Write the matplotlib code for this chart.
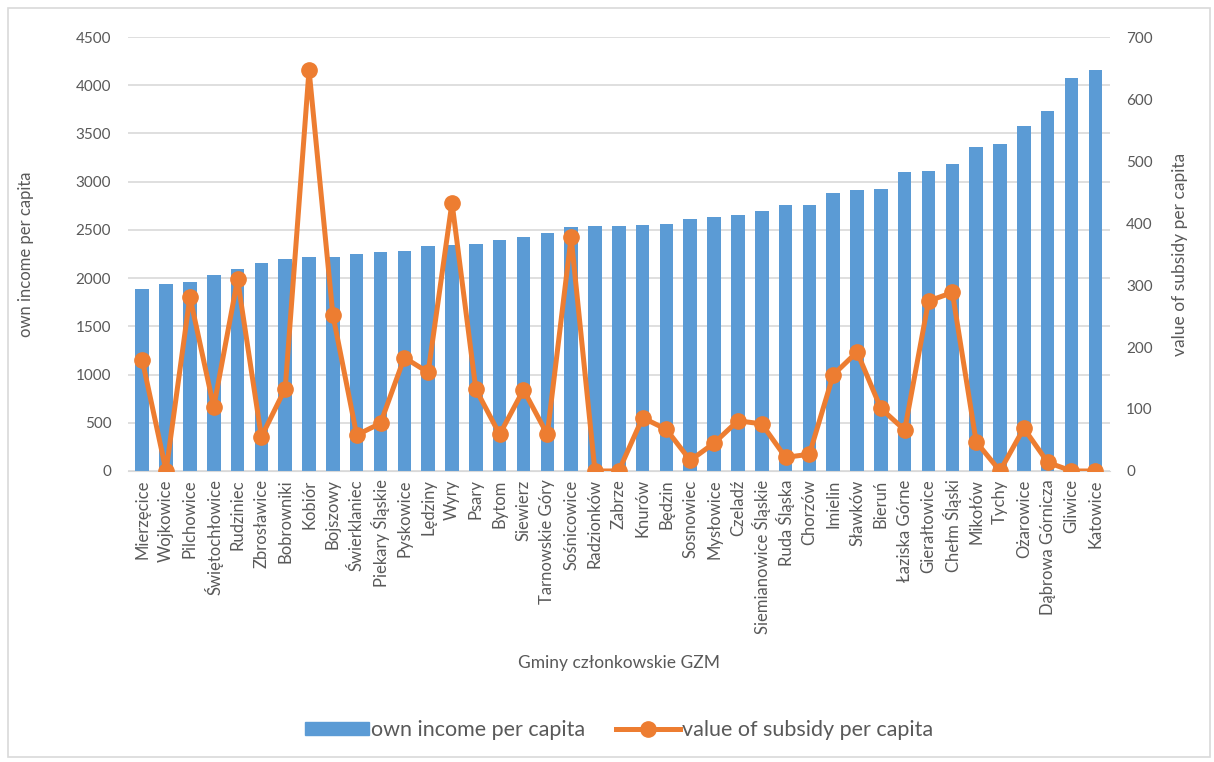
import matplotlib.pyplot as plt
import matplotlib.patches as mpatches
import numpy as np

# gminy GZM, sorted by own income
gminy = ['Mierzęcice', 'Wojkowice', 'Pilchowice', 'Świętochłowice', 'Rudziniec',
         'Zbrosławice', 'Bobrowniki', 'Kobiór', 'Bojszowy', 'Świerklaniec',
         'Piekary Śląskie', 'Pyskowice', 'Lędziny', 'Wyry', 'Psary', 'Bytom',
         'Siewierz', 'Tarnowskie Góry', 'Sośnicowice', 'Radzionków', 'Zabrze',
         'Knurów', 'Będzin', 'Sosnowiec', 'Mysłowice', 'Czeladź',
         'Siemianowice Śląskie', 'Ruda Śląska', 'Chorzów', 'Imielin', 'Sławków',
         'Bieruń', 'Łaziska Górne', 'Gierałtowice', 'Chełm Śląski', 'Mikołów',
         'Tychy', 'Ożarowice', 'Dąbrowa Górnicza', 'Gliwice', 'Katowice']

own_income = [1890, 1940, 1960, 2030, 2095, 2160, 2200, 2215, 2220, 2255,
              2275, 2285, 2330, 2345, 2350, 2395, 2425, 2465, 2530, 2540,
              2545, 2550, 2560, 2610, 2630, 2655, 2692, 2758, 2762, 2883,
              2914, 2927, 3097, 3108, 3183, 3360, 3388, 3581, 3733, 4078, 4158]

subsidy = [179, 0, 281, 103, 309, 55, 133, 647, 252, 58,
           77, 183, 159, 433, 132, 59, 131, 59, 377, 0,
           0, 86, 67, 17, 45, 81, 76, 22, 27, 155,
           192, 101, 66, 274, 288, 47, 0, 69, 14, 0, 0]

bar_col = '#5B9BD5'
line_col = '#ED7D31'
txt_col = '#595959'

plt.rcParams['font.family'] = ['Lato', 'DejaVu Sans']

fig = plt.figure(figsize=(12.14, 7.62), dpi=100)
ax1 = fig.add_axes([0.1054, 0.3819, 0.8086, 0.5695])
ax2 = ax1.twinx()

x = np.arange(len(gminy))
ax1.bar(x, own_income, width=0.57, color=bar_col, zorder=2)
ax2.plot(x, subsidy, color=line_col, lw=3.6, marker='o', ms=11, zorder=3)

ax1.set_ylim(0, 4500)
ax1.set_yticks(range(0, 4501, 500))
ax2.set_ylim(0, 700)
ax2.set_yticks(range(0, 701, 100))
ax1.set_xlim(-0.6, len(gminy) - 0.4)

ax1.set_xticks(x)
ax1.set_xticklabels(gminy, rotation=90)
ax1.yaxis.grid(True, color='#D9D9D9', lw=1.2, zorder=0)
ax1.set_axisbelow(True)

for a in (ax1, ax2):
    for s in a.spines.values():
        s.set_visible(False)
    a.tick_params(length=0, labelsize=11, colors=txt_col, pad=12)
ax1.tick_params(axis='x', labelsize=12, pad=6)
ax1.spines['bottom'].set_visible(True)
ax1.spines['bottom'].set_color('#D9D9D9')

ax1.set_ylabel('own income per capita', fontsize=12, color=txt_col, labelpad=30)
ax2.set_ylabel('value of subsidy per capita', fontsize=12.5, color=txt_col, labelpad=14)
fig.text(0.51, 0.13, 'Gminy członkowskie GZM', ha='center', va='center',
         fontsize=12.5, color=txt_col)

# legend at the bottom
h1 = mpatches.Patch(color=bar_col)
h2 = plt.Line2D([], [], color=line_col, lw=3.6, marker='o', ms=11)
fig.legend([h1, h2], ['own income per capita', 'value of subsidy per capita'],
           loc='center', bbox_to_anchor=(0.51, 0.042), ncol=2, frameon=False,
           fontsize=15.5, labelcolor=txt_col, handlelength=3.0, handleheight=0.6,
           handletextpad=0.1, columnspacing=1.4)

# chart border
fig.patches.append(mpatches.Rectangle((0.007, 0.006), 0.99, 0.984, transform=fig.transFigure,
                                      fill=False, edgecolor='#D9D9D9', lw=1.2))

fig.savefig('out.png', dpi=100)
